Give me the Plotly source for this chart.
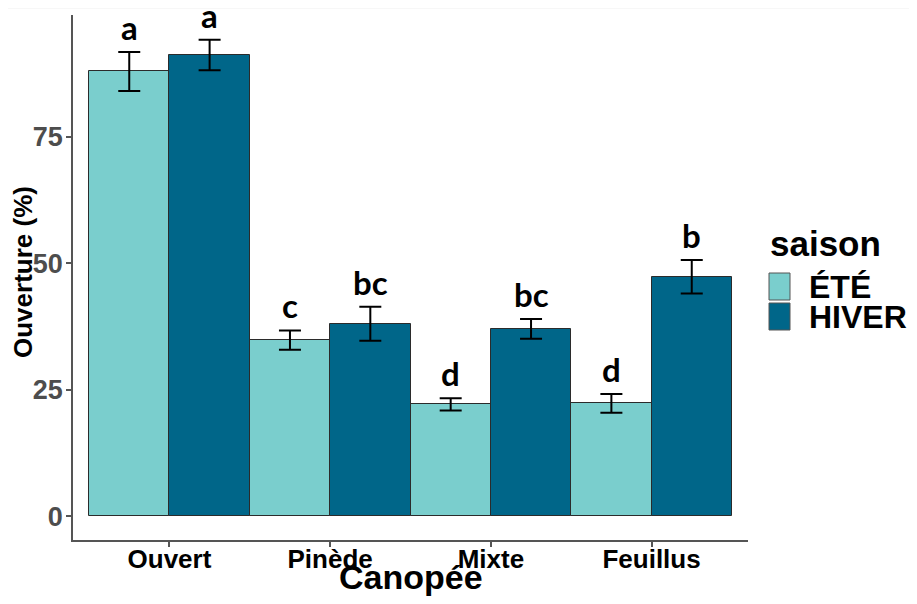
import plotly.graph_objects as go

# ---- data ----
categories = ["Ouvert", "Pinède", "Mixte", "Feuillus"]
seasons = ["ÉTÉ", "HIVER"]
ete_mean = [87.85, 34.8, 22.1, 22.3]
ete_se = [3.85, 1.9, 1.2, 1.85]
hiver_mean = [91.1, 38.0, 37.0, 47.3]
hiver_se = [3.0, 3.35, 1.95, 3.3]
ete_letters = ["a", "c", "d", "d"]
hiver_letters = ["a", "bc", "bc", "b"]
y_ticks = [0, 25, 50, 75]

colors = {"ÉTÉ": "#7ACECD", "HIVER": "#006689"}

# page body has an 8px margin on each side; keep the whole figure inside the window
OFF = 8
W, H = 917 - 2 * OFF, 604 - 2 * OFF
ML, MT = 73 - OFF, 15 - OFF
PW, PH = 675, 525
MR, MB = W - ML - PW, H - MT - PH

FONT = "Liberation Sans, Arial, sans-serif"


def px_x(px):
    return (px - OFF - ML) / PW


def px_y(py):
    return (MT + PH - (py - OFF)) / PH


fig = go.Figure()
for name, means, ses in [("ÉTÉ", ete_mean, ete_se), ("HIVER", hiver_mean, hiver_se)]:
    fig.add_trace(go.Bar(
        x=categories, y=means, name=name,
        marker=dict(color=colors[name], line=dict(color="#2b2b2b", width=1)),
        error_y=dict(type="data", array=ses, visible=True, color="black",
                     thickness=2, width=11),
        showlegend=False,
    ))

ann = []
for i in range(len(categories)):
    for off, means, ses, letters in [(-0.25, ete_mean, ete_se, ete_letters),
                                     (0.25, hiver_mean, hiver_se, hiver_letters)]:
        ann.append(dict(
            x=i + off, y=means[i] + ses[i], xref="x", yref="y",
            text=letters[i], showarrow=False, yanchor="bottom", yshift=3,
            font=dict(family="Lato, Carlito, Calibri, sans-serif", size=33,
                      color="black", weight="bold"),
        ))

# axis titles
ann.append(dict(x=0.5, y=px_y(577), xref="paper", yref="paper",
                text="<b>Canopée</b>", showarrow=False, yanchor="middle",
                font=dict(family=FONT, size=34, color="black")))
ann.append(dict(x=px_x(23), y=px_y(272), xref="paper", yref="paper",
                text="<b>Ouverture (%)</b>", showarrow=False, textangle=-90,
                xanchor="center", yanchor="middle",
                font=dict(family=FONT, size=26, color="black")))

# manual legend
ann.append(dict(x=px_x(768), y=px_y(243), xref="paper", yref="paper",
                text="<b>saison</b>", showarrow=False, xanchor="left", yanchor="middle",
                font=dict(family=FONT, size=35, color="black")))
shapes = []
for name, top in [("ÉTÉ", 273), ("HIVER", 303)]:
    shapes.append(dict(type="rect", xref="paper", yref="paper",
                       x0=px_x(769), x1=px_x(790), y0=px_y(top + 27), y1=px_y(top),
                       fillcolor=colors[name], line=dict(color="#555555", width=1)))
    ann.append(dict(x=px_x(807), y=px_y(top + 14), xref="paper", yref="paper",
                    text="<b>" + name + "</b>", showarrow=False, xanchor="left", yanchor="middle",
                    font=dict(family=FONT, size=32, color="black")))

shapes.append(dict(type="line", xref="paper", yref="paper", x0=px_x(OFF), x1=px_x(917),
                   y0=px_y(8), y1=px_y(8), line=dict(color="#f0f0f0", width=1)))

fig.update_layout(
    width=W, height=H,
    margin=dict(l=ML, r=MR, t=MT, b=MB, pad=0),
    paper_bgcolor="white", plot_bgcolor="white",
    barmode="group", bargap=0, bargroupgap=0,
    annotations=ann, shapes=shapes,
    xaxis=dict(
        type="category", range=[-0.6, 3.6], showgrid=False, zeroline=False,
        showline=True, linecolor="#555555", linewidth=1.5,
        ticks="outside", ticklen=5, tickcolor="#555555", tickwidth=1.5,
        ticklabelstandoff=-10,
        tickfont=dict(family=FONT, size=26, color="black", weight="bold"),
    ),
    yaxis=dict(
        range=[-4.7, 99.0], tickvals=y_ticks, showgrid=False, zeroline=False,
        showline=True, linecolor="#555555", linewidth=1.5,
        ticks="outside", ticklen=5, tickcolor="#555555", tickwidth=1.5,
        ticklabelstandoff=-2,
        tickfont=dict(family=FONT, size=27, color="#4D4D4D", weight="bold"),
    ),
)

fig.write_html("out.html")
